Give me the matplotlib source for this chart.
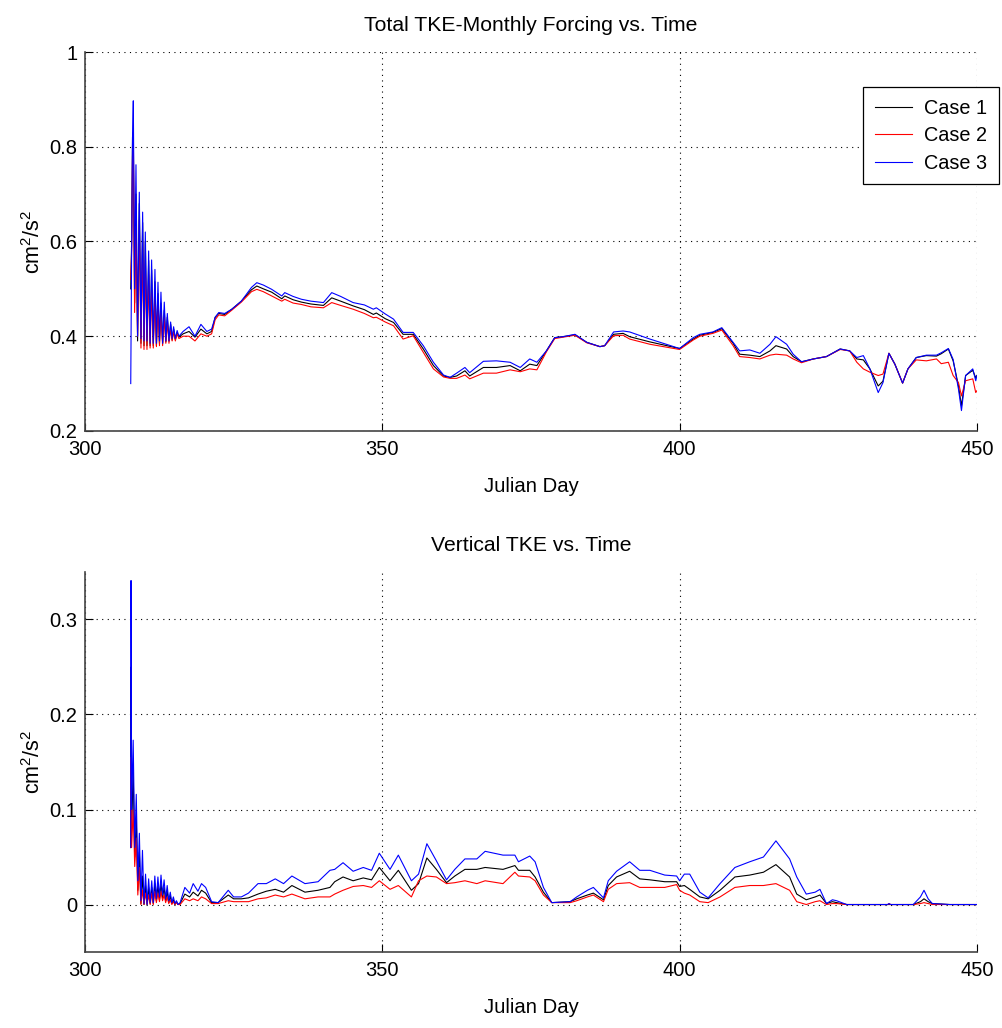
import matplotlib
matplotlib.use('Agg')
import matplotlib.pyplot as plt

plt.rcParams['font.family'] = ['Liberation Sans', 'DejaVu Sans']
plt.rcParams['mathtext.fontset'] = 'custom'
plt.rcParams['mathtext.rm'] = 'Liberation Sans'
plt.rcParams['mathtext.it'] = 'Liberation Sans'

# Total TKE (top panel)
top_day = [307.7, 307.85, 308.0, 308.13, 308.35, 308.58, 308.85, 309.14, 309.42, 309.70,
           309.93, 310.15, 310.43, 310.71, 310.96, 311.21, 311.49, 311.77, 312.02, 312.28,
           312.53, 312.78, 313.06, 313.34, 313.6, 313.85, 314.13, 314.41, 314.66, 314.91,
           315.2, 315.5, 315.8,
           316.5, 317.5, 318.5, 319.5, 320.5, 321.3, 321.9, 322.5, 323.5, 324.7,
           326.3, 328.0, 328.9, 330.0, 331.4, 333.1, 333.6, 335.0, 336.4, 338.0,
           340.1, 341.5, 343.0, 345.1, 347.0, 348.5, 349.0, 350.5, 351.9, 353.5,
           355.2, 356.9, 358.6, 360.3, 361.4, 362.5, 363.9, 364.7, 367.0, 369.2,
           371.5, 373.2, 374.8, 376.0, 377.6, 379.0, 380.4, 382.4, 384.4, 386.6,
           387.4, 388.9, 390.5, 391.6, 395.0, 400.0, 402.3, 403.4, 405.6, 407.1,
           409.0, 410.1, 411.8, 413.5, 415.2, 416.2, 418.0, 419.1, 420.5, 422.5,
           424.7, 427.0, 428.6, 429.8, 430.9, 432.0, 433.4, 434.2, 435.2, 436.2,
           437.5, 438.4, 439.8, 441.5, 443.2, 444.0, 445.2, 446.0, 446.9, 447.4,
           448.1, 449.3, 449.8, 450.0]
top_case1 = [0.50, 0.60, 0.82, 0.83, 0.47, 0.70, 0.39, 0.68, 0.385, 0.64,
             0.38, 0.60, 0.38, 0.56, 0.38, 0.54, 0.38, 0.515, 0.38, 0.49,
             0.385, 0.47, 0.385, 0.455, 0.388, 0.44, 0.39, 0.425, 0.392, 0.415,
             0.393, 0.408, 0.398,
             0.405, 0.41, 0.398, 0.415, 0.405, 0.41, 0.44, 0.448, 0.446, 0.457,
             0.474, 0.498, 0.506, 0.500, 0.493, 0.479, 0.485, 0.477, 0.472, 0.468,
             0.465, 0.481, 0.474, 0.464, 0.456, 0.446, 0.449, 0.437, 0.429, 0.404,
             0.404, 0.373, 0.338, 0.316, 0.313, 0.316, 0.327, 0.316, 0.334, 0.334,
             0.338, 0.327, 0.341, 0.338, 0.369, 0.397, 0.399, 0.403, 0.387, 0.378,
             0.380, 0.404, 0.406, 0.399, 0.388, 0.374, 0.394, 0.402, 0.408, 0.416,
             0.385, 0.362, 0.360, 0.357, 0.369, 0.380, 0.373, 0.357, 0.346, 0.352,
             0.357, 0.373, 0.369, 0.352, 0.350, 0.331, 0.295, 0.305, 0.364, 0.341,
             0.301, 0.331, 0.355, 0.359, 0.358, 0.363, 0.373, 0.348, 0.295, 0.253,
             0.317, 0.328, 0.312, 0.317]
top_case2 = [0.52, 0.58, 0.78, 0.815, 0.45, 0.632, 0.40, 0.646, 0.375, 0.60,
             0.372, 0.56, 0.372, 0.53, 0.375, 0.50, 0.375, 0.48, 0.378, 0.465,
             0.38, 0.45, 0.38, 0.44, 0.385, 0.43, 0.385, 0.415, 0.39, 0.41,
             0.39, 0.405, 0.395,
             0.40, 0.40, 0.39, 0.405, 0.40, 0.405, 0.435, 0.445, 0.443, 0.455,
             0.472, 0.494, 0.499, 0.494, 0.485, 0.474, 0.478, 0.470, 0.467, 0.462,
             0.460, 0.471, 0.465, 0.457, 0.448, 0.439, 0.440, 0.430, 0.422, 0.394,
             0.401, 0.366, 0.331, 0.314, 0.311, 0.311, 0.318, 0.310, 0.322, 0.322,
             0.329, 0.325, 0.331, 0.329, 0.367, 0.395, 0.398, 0.402, 0.386, 0.378,
             0.380, 0.401, 0.402, 0.394, 0.383, 0.372, 0.392, 0.400, 0.406, 0.413,
             0.380, 0.357, 0.355, 0.352, 0.360, 0.362, 0.360, 0.352, 0.344, 0.352,
             0.357, 0.372, 0.369, 0.345, 0.331, 0.324, 0.317, 0.320, 0.364, 0.341,
             0.301, 0.331, 0.350, 0.348, 0.352, 0.342, 0.345, 0.317, 0.302, 0.274,
             0.306, 0.310, 0.281, 0.285]
top_case3 = [0.30, 0.58, 0.82, 0.897, 0.50, 0.762, 0.40, 0.704, 0.395, 0.662,
             0.39, 0.620, 0.39, 0.580, 0.385, 0.561, 0.385, 0.541, 0.385, 0.514,
             0.39, 0.493, 0.385, 0.472, 0.39, 0.448, 0.39, 0.43, 0.395, 0.42,
             0.395, 0.412, 0.40,
             0.41, 0.42, 0.40, 0.425, 0.41, 0.415, 0.44, 0.45, 0.448, 0.457,
             0.474, 0.503, 0.513, 0.508, 0.499, 0.485, 0.492, 0.484, 0.478, 0.474,
             0.471, 0.492, 0.484, 0.471, 0.466, 0.457, 0.460, 0.447, 0.436, 0.408,
             0.408, 0.380, 0.345, 0.318, 0.313, 0.322, 0.334, 0.323, 0.347, 0.348,
             0.345, 0.334, 0.352, 0.345, 0.369, 0.397, 0.399, 0.404, 0.387, 0.378,
             0.380, 0.409, 0.411, 0.409, 0.394, 0.374, 0.397, 0.404, 0.409, 0.418,
             0.387, 0.369, 0.371, 0.364, 0.383, 0.399, 0.383, 0.362, 0.346, 0.352,
             0.357, 0.373, 0.369, 0.355, 0.359, 0.331, 0.281, 0.302, 0.364, 0.341,
             0.301, 0.331, 0.355, 0.360, 0.360, 0.365, 0.374, 0.351, 0.288, 0.243,
             0.317, 0.331, 0.306, 0.317]

# Vertical TKE (bottom panel)
bot_day = [307.70, 307.75, 307.85, 308.11, 308.37, 308.63, 308.89, 309.15, 309.41, 309.67,
           309.93, 310.19, 310.45, 310.71, 310.97, 311.23, 311.49, 311.75, 312.01, 312.27,
           312.53, 312.79, 313.05, 313.31, 313.57, 313.83, 314.09, 314.35, 314.61, 314.87,
           315.13, 315.39, 315.65,
           316.0, 316.8, 317.6, 318.2, 319.0, 319.6, 320.3, 321.3, 322.4, 324.1,
           325.0, 326.3, 327.5, 329.1, 330.5, 332.0, 333.4, 334.8, 337.0, 339.2,
           341.2, 342.0, 343.4, 345.1, 346.8, 348.2, 349.5, 351.3, 352.7, 354.9,
           356.1, 357.5, 359.1, 360.8, 362.2, 363.9, 365.9, 367.3, 370.3, 372.3,
           372.9, 374.8, 375.7, 377.1, 378.5, 381.6, 382.7, 384.5, 385.5, 387.2,
           388.0, 389.4, 391.6, 393.3, 395.0, 397.5, 399.5, 400.0, 400.8, 401.7,
           403.4, 404.8, 406.8, 409.3, 411.8, 414.1, 416.2, 418.5, 419.7, 421.3,
           422.8, 423.6, 424.7, 425.7, 426.4, 428.1, 435.0, 435.2, 435.5, 439.3,
           440.5, 441.1, 441.8, 442.5, 445.4, 450.0]
bot_case1 = [0.06, 0.25, 0.08, 0.14, 0.05, 0.09, 0.015, 0.055, 0.001, 0.03,
             0.0, 0.02, 0.0, 0.018, 0.001, 0.018, 0.001, 0.022, 0.004, 0.02,
             0.005, 0.022, 0.007, 0.018, 0.004, 0.014, 0.002, 0.009, 0.001, 0.005,
             0.0, 0.003, 0.0,
             0.001, 0.011, 0.008, 0.013, 0.009, 0.015, 0.012, 0.002, 0.002, 0.010,
             0.006, 0.006, 0.007, 0.011, 0.014, 0.016, 0.013, 0.020, 0.013, 0.015,
             0.018, 0.024, 0.029, 0.025, 0.028, 0.026, 0.039, 0.025, 0.036, 0.015,
             0.022, 0.049, 0.037, 0.023, 0.030, 0.037, 0.037, 0.039, 0.037, 0.041,
             0.036, 0.036, 0.029, 0.013, 0.002, 0.003, 0.006, 0.010, 0.012, 0.005,
             0.020, 0.029, 0.035, 0.027, 0.026, 0.024, 0.024, 0.019, 0.020, 0.016,
             0.008, 0.006, 0.015, 0.029, 0.031, 0.034, 0.042, 0.029, 0.011, 0.005,
             0.008, 0.010, 0.001, 0.003, 0.002, 0.0, 0.0, 0.0, 0.0, 0.0,
             0.003, 0.006, 0.003, 0.001, 0.0, 0.0]
bot_case2 = [0.06, 0.155, 0.06, 0.10, 0.04, 0.07, 0.01, 0.039, 0.0, 0.015,
             0.0, 0.012, 0.0, 0.01, 0.0, 0.012, 0.0, 0.014, 0.002, 0.012,
             0.003, 0.014, 0.004, 0.01, 0.002, 0.008, 0.001, 0.005, 0.0, 0.003,
             0.0, 0.002, 0.0,
             0.0, 0.006, 0.004, 0.006, 0.004, 0.008, 0.006, 0.001, 0.001, 0.004,
             0.003, 0.003, 0.003, 0.006, 0.007, 0.010, 0.008, 0.011, 0.006, 0.008,
             0.008, 0.011, 0.015, 0.019, 0.020, 0.018, 0.025, 0.016, 0.020, 0.008,
             0.025, 0.030, 0.029, 0.022, 0.023, 0.025, 0.022, 0.025, 0.022, 0.034,
             0.030, 0.029, 0.025, 0.010, 0.002, 0.002, 0.004, 0.008, 0.010, 0.003,
             0.016, 0.022, 0.023, 0.018, 0.018, 0.018, 0.021, 0.015, 0.012, 0.010,
             0.003, 0.002, 0.008, 0.018, 0.020, 0.020, 0.022, 0.015, 0.003, 0.0,
             0.003, 0.004, 0.0, 0.001, 0.001, 0.0, 0.0, 0.001, 0.0, 0.0,
             0.001, 0.002, 0.001, 0.0, 0.0, 0.0]
bot_case3 = [0.06, 0.341, 0.10, 0.173, 0.06, 0.116, 0.025, 0.075, 0.004, 0.057,
             0.001, 0.032, 0.0, 0.027, 0.002, 0.025, 0.002, 0.03, 0.006, 0.029,
             0.008, 0.031, 0.01, 0.026, 0.006, 0.02, 0.004, 0.013, 0.002, 0.008,
             0.001, 0.004, 0.0,
             0.002, 0.018, 0.012, 0.022, 0.014, 0.022, 0.018, 0.003, 0.002, 0.015,
             0.008, 0.008, 0.012, 0.022, 0.022, 0.027, 0.022, 0.030, 0.022, 0.024,
             0.036, 0.037, 0.044, 0.035, 0.039, 0.036, 0.054, 0.037, 0.052, 0.025,
             0.032, 0.064, 0.046, 0.026, 0.037, 0.048, 0.048, 0.056, 0.052, 0.052,
             0.045, 0.051, 0.045, 0.018, 0.002, 0.003, 0.008, 0.015, 0.018, 0.007,
             0.025, 0.035, 0.045, 0.036, 0.036, 0.031, 0.030, 0.025, 0.032, 0.032,
             0.013, 0.007, 0.022, 0.039, 0.045, 0.050, 0.067, 0.048, 0.029, 0.011,
             0.013, 0.016, 0.001, 0.005, 0.004, 0.0, 0.0, 0.001, 0.0, 0.0,
             0.008, 0.015, 0.006, 0.001, 0.0, 0.0]

fig = plt.figure(figsize=(10.03, 10.28), dpi=100)
ax1 = fig.add_axes([0.0847, 0.5808, 0.8893, 0.3686])
ax2 = fig.add_axes([0.0847, 0.0739, 0.8893, 0.3697])

def style(ax, title, ylim, yticks):
    ax.set_xlim(300, 450)
    ax.set_ylim(*ylim)
    ax.set_xticks([300, 350, 400, 450])
    ax.set_yticks(yticks)
    ax.grid(True, linestyle=(0, (1, 4)), color='black', linewidth=0.8)
    ax.tick_params(direction='in', length=6, labelsize=14.5)
    ax.tick_params(axis='x', pad=6.5)
    ax.tick_params(axis='y', pad=5.5)
    ax.spines['top'].set_visible(False)
    ax.spines['right'].set_visible(False)
    for s in ['left', 'bottom']:
        ax.spines[s].set_color('#444444')
        ax.spines[s].set_linewidth(1.2)
    ax.set_title(title, fontsize=15.2, pad=15)
    ax.set_xlabel('Julian Day', fontsize=14.6, labelpad=13)
    ax.set_ylabel('cm$^2$/s$^2$', fontsize=15.5, labelpad=3)

ax1.plot(top_day, top_case1, color='black', lw=0.8, label='Case 1')
ax1.plot(top_day, top_case2, color='red', lw=0.8, label='Case 2')
ax1.plot(top_day, top_case3, color='blue', lw=0.8, label='Case 3')
style(ax1, 'Total TKE-Monthly Forcing vs. Time', (0.2, 1.0), [0.2, 0.4, 0.6, 0.8, 1.0])
ax1.set_yticklabels(['0.2', '0.4', '0.6', '0.8', '1'])

leg = ax1.legend(loc='upper left', bbox_to_anchor=(0.8604, 0.9154),
                 bbox_transform=fig.transFigure, fontsize=14.3, fancybox=False,
                 edgecolor='black', framealpha=1, borderaxespad=0,
                 handlelength=1.85, handletextpad=0.6, labelspacing=0.42,
                 borderpad=0.6)
leg.get_frame().set_linewidth(0.9)

ax2.plot(bot_day, bot_case1, color='black', lw=0.8)
ax2.plot(bot_day, bot_case2, color='red', lw=0.8)
ax2.plot(bot_day, bot_case3, color='blue', lw=0.8)
style(ax2, 'Vertical TKE vs. Time', (-0.05, 0.35), [0, 0.1, 0.2, 0.3])
ax2.set_yticklabels(['0', '0.1', '0.2', '0.3'])

fig.savefig('out.png', dpi=100)
